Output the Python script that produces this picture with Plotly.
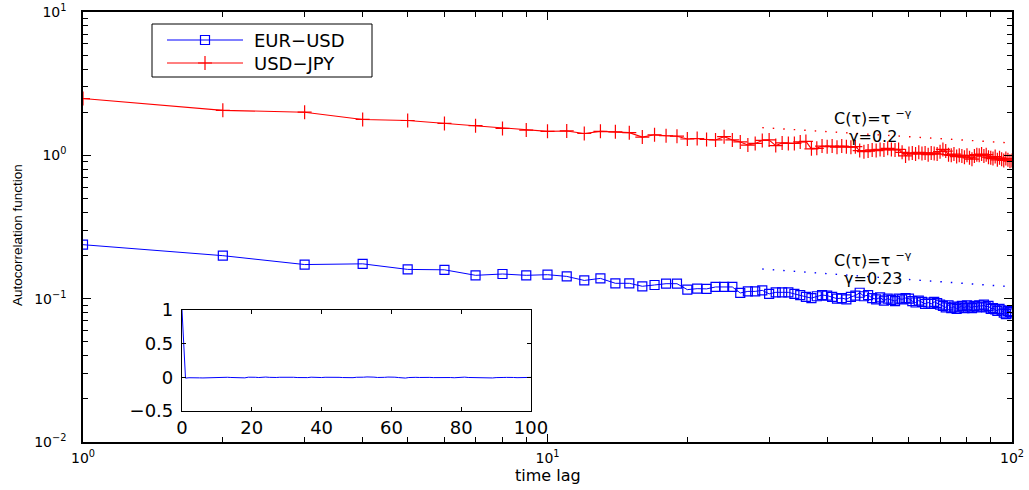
import plotly.graph_objects as go

# ---- data -------------------------------------------------------------
lags = list(range(1, 101))

eur_usd = [
    0.238, 0.1995, 0.173, 0.175, 0.160, 0.159, 0.1455, 0.1486, 0.1455, 0.147,
    0.143, 0.134, 0.1385, 0.128, 0.128, 0.122, 0.1246, 0.1272, 0.1272, 0.1156,
    0.1174, 0.117, 0.1207, 0.1207, 0.1207, 0.1096, 0.1124, 0.1124, 0.1143, 0.108,
    0.1107, 0.1107, 0.1107, 0.108, 0.106, 0.103, 0.101, 0.104, 0.106, 0.105,
    0.103, 0.100, 0.101, 0.099, 0.103, 0.105, 0.110, 0.104, 0.106, 0.101,
    0.099, 0.102, 0.097, 0.100, 0.098, 0.096, 0.100, 0.099, 0.101, 0.100,
    0.096, 0.094, 0.097, 0.095, 0.092, 0.094, 0.092, 0.095, 0.093, 0.091,
    0.089, 0.087, 0.090, 0.086, 0.088, 0.085, 0.087, 0.089, 0.086, 0.090,
    0.088, 0.086, 0.089, 0.087, 0.090, 0.088, 0.091, 0.087, 0.089, 0.085,
    0.086, 0.084, 0.082, 0.085, 0.083, 0.080, 0.078, 0.082, 0.081, 0.079,
]

usd_jpy = [
    2.49, 2.06, 2.00, 1.78, 1.75, 1.67, 1.61, 1.54, 1.50, 1.47,
    1.48, 1.42, 1.47, 1.46, 1.44, 1.34, 1.39, 1.37, 1.36, 1.30,
    1.31, 1.29, 1.28, 1.35, 1.28, 1.24, 1.18, 1.21, 1.27, 1.28,
    1.17, 1.22, 1.21, 1.21, 1.24, 1.25, 1.11, 1.12, 1.16, 1.15,
    1.16, 1.14, 1.16, 1.15, 1.14, 1.15, 1.08, 1.06, 1.07, 1.09,
    1.08, 1.10, 1.09, 1.12, 1.10, 1.09, 1.10, 1.05, 0.99, 1.03,
    1.04, 1.02, 1.05, 1.03, 1.04, 1.01, 1.04, 1.03, 1.02, 1.06,
    1.10, 1.07, 1.01, 1.00, 1.02, 0.98, 1.00, 0.99, 0.97, 1.00,
    0.96, 0.94, 0.99, 1.01, 1.00, 1.02, 0.99, 1.01, 0.97, 0.96,
    0.95, 0.98, 0.93, 0.96, 0.94, 0.92, 0.95, 0.93, 0.91, 0.92,
]

# autocorrelation of the raw returns (inset)
inset_lags = list(range(0, 101))
inset_acf = [
    1.0, -0.012, -0.006, -0.004, -0.005, -0.008, -0.009, -0.006, -0.003, -0.002,
    -0.001, 0.002, 0.004, 0.001, -0.002, -0.004, -0.006, -0.009, -0.008, 0.002,
    0.005, 0.001, -0.003, 0.002, 0.004, 0.000, -0.004, -0.002, 0.001, 0.003,
    0.000, -0.002, 0.001, -0.003, -0.007, -0.010, -0.004, 0.002, -0.002, -0.005,
    -0.003, 0.001, 0.003, -0.001, 0.002, 0.000, -0.003, -0.006, -0.008, -0.005,
    0.001, -0.002, 0.002, 0.006, 0.009, 0.003, -0.002, -0.004, 0.000, 0.004,
    0.007, 0.002, -0.003, -0.008, -0.011, -0.003, 0.002, 0.000, -0.002, 0.001,
    0.003, -0.001, -0.004, -0.002, 0.001, 0.004, 0.002, -0.003, -0.006, -0.002,
    0.001, 0.003, -0.002, -0.004, 0.000, 0.002, -0.001, -0.005, -0.007, -0.009,
    -0.004, 0.001, -0.002, -0.001, 0.002, -0.002, -0.005, -0.003, 0.000, -0.002,
    -0.001,
]

# power-law fits C(tau) = A * tau^-gamma over the tail
fit_gamma = [0.23, 0.2]
fit_amp = [0.349, 3.06]
fit_lag_start = 29

series_names = ["EUR\u2212USD", "USD\u2212JPY"]
x_ticks = [1, 10, 100]
x_ticktext = ["10<sup>0</sup>", "10<sup>1</sup>", "10<sup>2</sup>"]
y_ticks = [0.01, 0.1, 1, 10]
y_ticktext = ["10<sup>\u22122</sup>", "10<sup>\u22121</sup>", "10<sup>0</sup>", "10<sup>1</sup>"]
minor_vals = [m * 10 ** e for e in (-2, -1, 0, 1) for m in range(2, 10)]
inset_xticks = [0, 20, 40, 60, 80, 100]
inset_yticks = [-0.5, 0, 0.5, 1]
inset_yticktext = ["\u22120.5", "0", "0.5", "1"]

# ---- layout geometry (pixels) ------------------------------------------
W, H = 1029, 490
ML, MR, MT, MB = 83, 17, 12, 48
PW, PH = W - ML - MR, H - MT - MB


def fx(px):
    return (px - ML) / PW


def fy(py):
    return (H - MB - py) / PH


BLUE = "#0000ff"
RED = "#ff0000"
TICK_FONT = dict(family="DejaVu Sans", size=14, color="black")
INSET_FONT = dict(family="DejaVu Sans", size=18, color="black")

fig = go.Figure()

# main series
fig.add_trace(go.Scatter(
    x=lags, y=eur_usd, mode="lines+markers", name=series_names[0],
    line=dict(color=BLUE, width=1),
    marker=dict(symbol="square-open", size=9, color=BLUE, line=dict(width=1.2, color=BLUE)),
    showlegend=False,
))
fig.add_trace(go.Scatter(
    x=lags, y=usd_jpy, mode="lines+markers", name=series_names[1],
    line=dict(color=RED, width=1.1),
    marker=dict(symbol="cross-thin", size=10, color=RED, line=dict(width=1.2, color=RED)),
    showlegend=False,
))

# power-law guide lines
fit_x = [k for k in lags if k >= fit_lag_start]
for amp, gam, col in zip(fit_amp, fit_gamma, [BLUE, RED]):
    fig.add_trace(go.Scatter(
        x=fit_x, y=[amp * k ** (-gam) for k in fit_x], mode="lines",
        line=dict(color=col, width=1.4, dash="1.5px,9px"),
        showlegend=False, hoverinfo="skip",
    ))

# inset
fig.add_trace(go.Scatter(
    x=inset_lags, y=inset_acf, mode="lines", xaxis="x2", yaxis="y2",
    line=dict(color=BLUE, width=1), showlegend=False,
))

# legend glyphs (drawn on an overlay axis in plot-fraction units)
leg_y = [40, 63]
leg_line = (167, 243)
leg_mark_x = 205
fig.add_trace(go.Scatter(
    x=[fx(leg_mark_x)], y=[fy(leg_y[0])], mode="markers", xaxis="x3", yaxis="y3",
    marker=dict(symbol="square-open", size=9, color=BLUE, line=dict(width=1.2, color=BLUE)),
    showlegend=False, hoverinfo="skip",
))
fig.add_trace(go.Scatter(
    x=[fx(leg_mark_x)], y=[fy(leg_y[1])], mode="markers", xaxis="x3", yaxis="y3",
    marker=dict(symbol="cross-thin", size=10, color=RED, line=dict(width=1.2, color=RED)),
    showlegend=False, hoverinfo="skip",
))

shapes = [
    dict(type="rect", xref="paper", yref="paper",
         x0=fx(152), x1=fx(372), y0=fy(77), y1=fy(24),
         line=dict(color="black", width=1), fillcolor="white", layer="below"),
]
for yy, col in zip(leg_y, [BLUE, RED]):
    shapes.append(dict(type="line", xref="paper", yref="paper",
                       x0=fx(leg_line[0]), x1=fx(leg_line[1]), y0=fy(yy), y1=fy(yy),
                       line=dict(color=col, width=1)))

annotations = []
for yy, name in zip(leg_y, series_names):
    annotations.append(dict(xref="paper", yref="paper", x=fx(252), y=fy(yy),
                            text=name, showarrow=False, xanchor="left", yanchor="middle",
                            font=dict(family="DejaVu Sans", size=18, color="black")))

# fit labels
for (cy1, cy2), gam in zip([(259, 278), (117, 136)], fit_gamma):
    annotations.append(dict(xref="paper", yref="paper", x=fx(873), y=fy(cy1),
                            text="C(\u03c4)=\u03c4 <sup>\u2212\u03b3</sup>", showarrow=False,
                            xanchor="center", yanchor="middle",
                            font=dict(family="DejaVu Sans", size=16, color="black")))
    annotations.append(dict(xref="paper", yref="paper", x=fx(873), y=fy(cy2),
                            text="\u03b3=%g" % gam, showarrow=False,
                            xanchor="center", yanchor="middle",
                            font=dict(family="DejaVu Sans", size=16, color="black")))

# axis titles
annotations.append(dict(xref="paper", yref="paper", x=fx(548), y=fy(475),
                        text="time lag", showarrow=False, xanchor="center", yanchor="middle",
                        font=dict(family="DejaVu Sans", size=16, color="black")))
annotations.append(dict(xref="paper", yref="paper", x=fx(18), y=fy(235),
                        text="Autocorrelation function", showarrow=False, textangle=-90,
                        xanchor="center", yanchor="middle",
                        font=dict(family="Liberation Sans", size=13.5, color="black")))

main_axis = dict(
    type="log", showgrid=False, zeroline=False, automargin=False,
    showline=True, linecolor="black", linewidth=1.5, mirror="allticks",
    ticks="inside", ticklen=8, tickwidth=1, tickcolor="black",
    tickfont=TICK_FONT,
    minor=dict(tickmode="array", tickvals=minor_vals, ticks="inside",
               ticklen=5, tickwidth=1, tickcolor="black", showgrid=False),
)

inset_axis = dict(
    showgrid=False, zeroline=False, automargin=False, showline=True,
    linecolor="black", linewidth=1.2, mirror="allticks", ticks="inside",
    ticklen=4, tickcolor="black", tickfont=INSET_FONT,
)

fig.update_layout(
    width=W, height=H,
    margin=dict(l=ML, r=MR, t=MT, b=MB, pad=0, autoexpand=False),
    paper_bgcolor="white", plot_bgcolor="white",
    showlegend=False,
    xaxis=dict(main_axis, range=[0, 2], tickmode="array", tickvals=x_ticks,
               ticktext=x_ticktext, ticklabelstandoff=2),
    yaxis=dict(main_axis, range=[-2, 1], tickmode="array", tickvals=y_ticks,
               ticktext=y_ticktext, ticklabelstandoff=12),
    xaxis2=dict(inset_axis, domain=[fx(182), fx(531)], anchor="y2", range=[0, 100],
                tickmode="array", tickvals=inset_xticks),
    yaxis2=dict(inset_axis, domain=[fy(411), fy(310)], anchor="x2", range=[-0.5, 1],
                tickmode="array", tickvals=inset_yticks, ticktext=inset_yticktext,
                ticklabelstandoff=4),
    xaxis3=dict(overlaying="x", range=[0, 1], visible=False, fixedrange=True),
    yaxis3=dict(overlaying="y", range=[0, 1], visible=False, fixedrange=True),
    shapes=shapes,
    annotations=annotations,
)

fig.write_html("out.html")
